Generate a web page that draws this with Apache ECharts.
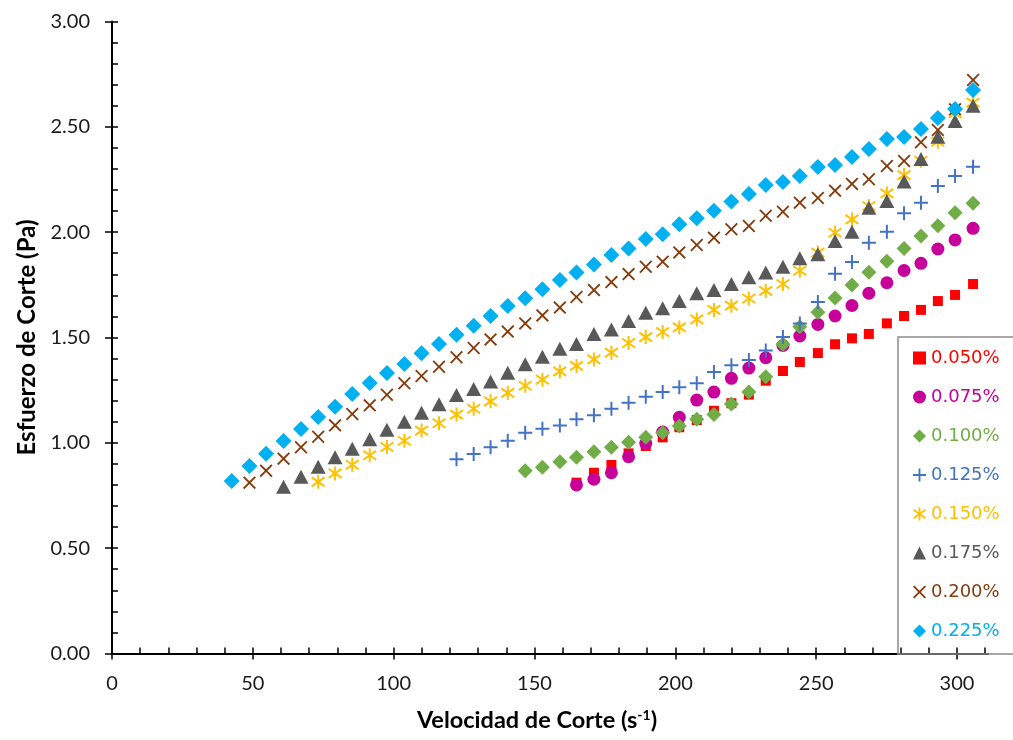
<!DOCTYPE html>
<html><head><meta charset="utf-8">
<script src="https://cdn.jsdelivr.net/npm/echarts@6/dist/echarts.min.js"></script>
<style>html,body{margin:0;padding:0;background:#fff}#c{width:1013px;height:740px}</style>
</head><body><div id="c"></div>
<script>
// Shear rate grid (s^-1); every series ends at the last shear rate
const shearRate = [42.5, 48.8, 54.7, 60.9, 67.1, 73.2, 79.2, 85.3, 91.5, 97.6,
  103.8, 109.9, 116.1, 122.3, 128.4, 134.4, 140.5, 146.7, 152.8, 159.0,
  164.9, 171.1, 177.3, 183.4, 189.5, 195.5, 201.4, 207.6, 213.7, 219.9,
  226.1, 232.1, 238.2, 244.2, 250.6, 256.7, 262.7, 268.7, 275.1, 281.2,
  287.2, 293.2, 299.3, 305.7];

const concentrations = ['0.050%', '0.075%', '0.100%', '0.125%', '0.150%', '0.175%', '0.200%', '0.225%'];

// Shear stress (Pa), aligned to the end of shearRate
const stress0050 = [0.811, 0.858, 0.895, 0.950, 0.985, 1.026, 1.074, 1.108, 1.152, 1.188,
  1.229, 1.295, 1.341, 1.384, 1.426, 1.468, 1.496, 1.517, 1.567, 1.602, 1.631, 1.673, 1.702, 1.754];
const stress0075 = [0.800, 0.827, 0.858, 0.934, 0.998, 1.051, 1.121, 1.203, 1.241, 1.306,
  1.355, 1.404, 1.462, 1.507, 1.562, 1.602, 1.652, 1.710, 1.760, 1.818, 1.852, 1.920, 1.963, 2.018];
const stress0100 = [0.868, 0.884, 0.910, 0.931, 0.958, 0.979, 1.003, 1.026, 1.048, 1.080,
  1.112, 1.135, 1.184, 1.241, 1.314, 1.468, 1.551, 1.620, 1.687, 1.749,
  1.810, 1.862, 1.923, 1.982, 2.031, 2.092, 2.137];
const stress0125 = [0.922, 0.947, 0.979, 1.010, 1.048, 1.067, 1.082, 1.112, 1.131, 1.162,
  1.190, 1.219, 1.241, 1.264, 1.283, 1.336, 1.368, 1.393, 1.438, 1.502,
  1.567, 1.668, 1.803, 1.858, 1.950, 2.002, 2.090, 2.140, 2.219, 2.267, 2.311];
const stress0150 = [0.815, 0.855, 0.896, 0.941, 0.980, 1.010, 1.058, 1.093, 1.134, 1.162,
  1.197, 1.237, 1.271, 1.300, 1.339, 1.365, 1.396, 1.428, 1.474, 1.502,
  1.526, 1.548, 1.586, 1.631, 1.651, 1.685, 1.721, 1.754, 1.817, 1.903,
  1.997, 2.061, 2.124, 2.184, 2.271, 2.339, 2.429, 2.564, 2.615];
const stress0175 = [0.792, 0.839, 0.887, 0.931, 0.972, 1.017, 1.062, 1.100, 1.143, 1.183,
  1.227, 1.256, 1.291, 1.333, 1.373, 1.409, 1.447, 1.469, 1.517, 1.538,
  1.578, 1.618, 1.639, 1.673, 1.710, 1.725, 1.754, 1.786, 1.808, 1.836,
  1.876, 1.895, 1.958, 2.002, 2.116, 2.148, 2.240, 2.347, 2.453, 2.528, 2.600];
const stress0200 = [0.811, 0.868, 0.925, 0.979, 1.029, 1.083, 1.137, 1.178, 1.228, 1.283,
  1.317, 1.361, 1.406, 1.450, 1.491, 1.528, 1.567, 1.605, 1.642, 1.692,
  1.725, 1.763, 1.801, 1.836, 1.860, 1.904, 1.939, 1.974, 2.014, 2.029,
  2.078, 2.097, 2.140, 2.162, 2.197, 2.229, 2.251, 2.314, 2.338, 2.427,
  2.485, 2.583, 2.722];
const stress0225 = [0.819, 0.890, 0.948, 1.009, 1.066, 1.123, 1.171, 1.232, 1.284, 1.331,
  1.374, 1.425, 1.469, 1.513, 1.556, 1.602, 1.650, 1.686, 1.729, 1.773,
  1.809, 1.847, 1.892, 1.923, 1.968, 1.990, 2.037, 2.066, 2.102, 2.145,
  2.181, 2.224, 2.238, 2.267, 2.309, 2.319, 2.357, 2.395, 2.442, 2.452,
  2.490, 2.542, 2.585, 2.675];

const stressSeries = [stress0050, stress0075, stress0100, stress0125, stress0150, stress0175, stress0200, stress0225];

// Tick values
const xMajorTicks = [0, 50, 100, 150, 200, 250, 300];
const xInnerTicks = [0, 10, 20, 30, 40, 50, 60, 70, 80, 90, 100, 110, 120, 130, 140, 150, 160, 170, 180, 190,
  200, 210, 220, 230, 240, 250, 260, 270, 280, 290, 300, 310];
const yMajorTicks = [0, 0.5, 1.0, 1.5, 2.0, 2.5, 3.0];
const yInnerTicks = [0, 0.1, 0.2, 0.3, 0.4, 0.5, 0.6, 0.7, 0.8, 0.9, 1.0, 1.1, 1.2, 1.3, 1.4, 1.5, 1.6, 1.7, 1.8, 1.9,
  2.0, 2.1, 2.2, 2.3, 2.4, 2.5, 2.6, 2.7, 2.8, 2.9, 3.0];

// Styles
const PLUS = 'path://M6,0H8V6H14V8H8V14H6V8H0V6H6Z';
const CROSS = 'path://M0,1.4L1.4,0L7,5.6L12.6,0L14,1.4L8.4,7L14,12.6L12.6,14L7,8.4L1.4,14L0,12.6L5.6,7Z';
const STAR = 'path://M6,0L8,0L8,14L6,14Z M1.069,1.678L14.069,10.678L12.931,12.322L-0.069,3.322Z M-0.069,10.678L12.931,1.678L14.069,3.322L1.069,12.322Z';
const styles = [
  {color: '#FF0000', symbol: 'rect', size: 10},
  {color: '#C8009A', symbol: 'circle', size: 13},
  {color: '#70AD47', symbol: 'diamond', size: 15},
  {color: '#4472C4', symbol: PLUS, size: 14},
  {color: '#FFC000', symbol: STAR, size: 14},
  {color: '#595959', symbol: 'triangle', size: [15, 14]},
  {color: '#843C0C', symbol: CROSS, size: 13},
  {color: '#00B0F0', symbol: 'diamond', size: 16}
];

const FONT = 'Lato, "Open Sans", sans-serif';
const LEGEND_FONT = '"DejaVu Sans", Verdana, sans-serif';

const series = stressSeries.map((vals, i) => {
  const offset = shearRate.length - vals.length;
  return {
    type: 'scatter',
    name: concentrations[i],
    data: vals.map((v, j) => [shearRate[offset + j], v]),
    symbol: styles[i].symbol,
    symbolSize: styles[i].size,
    itemStyle: {color: styles[i].color, opacity: 1},
    emphasis: {disabled: true},
    xAxisIndex: 0,
    yAxisIndex: 0
  };
});

const axisLineStyle = {color: '#000', width: 1.5};

const chart = echarts.init(document.getElementById('c'), null, {renderer: 'canvas'});
chart.setOption({
  backgroundColor: '#ffffff',
  animation: false,
  grid: {left: 112, right: 25, top: 21.5, bottom: 86.5, containLabel: false},
  xAxis: [{
    type: 'value', min: 0, max: 311, position: 'bottom',
    axisLine: {show: true, onZero: false, lineStyle: {color: '#000', width: 2}},
    axisTick: {show: true, inside: false, length: 6, customValues: xMajorTicks, lineStyle: axisLineStyle},
    axisLabel: {show: true, customValues: xMajorTicks, margin: 20, fontSize: 20, color: '#1a1a1a', fontFamily: FONT},
    splitLine: {show: false},
    name: 'Velocidad de Corte (s{sup|-1})',
    nameLocation: 'middle', nameGap: 55,
    nameTextStyle: {
      fontFamily: FONT, fontSize: 23.5, fontWeight: 'bold', color: '#000',
      padding: [0, 26, 0, 0],
      rich: {sup: {fontFamily: FONT, fontSize: 14, fontWeight: 'bold', color: '#000', verticalAlign: 'top', lineHeight: 13}}
    }
  }, {
    type: 'value', min: 0, max: 311, position: 'bottom',
    axisLine: {show: false},
    axisTick: {show: true, inside: true, length: 6, customValues: xInnerTicks, lineStyle: axisLineStyle},
    axisLabel: {show: false},
    splitLine: {show: false}
  }],
  yAxis: [{
    type: 'value', min: 0, max: 3, position: 'left',
    axisLine: {show: true, onZero: false, lineStyle: {color: '#000', width: 2}},
    axisTick: {show: true, inside: false, length: 7, customValues: yMajorTicks, lineStyle: axisLineStyle},
    axisLabel: {show: true, customValues: yMajorTicks, margin: 22, fontSize: 20, color: '#1a1a1a', fontFamily: FONT,
      formatter: v => v.toFixed(2)},
    splitLine: {show: false},
    name: 'Esfuerzo de Corte (Pa)',
    nameLocation: 'middle', nameGap: 71, nameRotate: 90,
    nameTextStyle: {fontFamily: FONT, fontSize: 24, fontWeight: 'bold', color: '#000'}
  }, {
    type: 'value', min: 0, max: 3, position: 'left',
    axisLine: {show: false},
    axisTick: {show: true, inside: true, length: 6, customValues: yInnerTicks, lineStyle: axisLineStyle},
    axisLabel: {show: false},
    splitLine: {show: false}
  }],
  legend: {
    orient: 'vertical', left: 898, top: 337,
    padding: [11, 60, 13, 15], itemGap: 19, itemWidth: 13, itemHeight: 13,
    borderColor: '#8c8c8c', borderWidth: 1.5, borderRadius: 0,
    selectedMode: false,
    textStyle: {fontFamily: LEGEND_FONT, fontSize: 18, lineHeight: 20},
    data: concentrations.map((n, i) => ({name: n, textStyle: {color: styles[i].color}}))
  },
  series: series
});
</script>
</body></html>
